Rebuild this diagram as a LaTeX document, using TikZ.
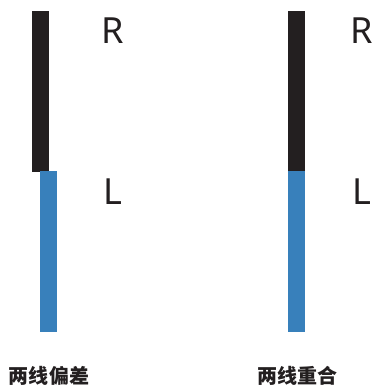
\documentclass[tikz,border=0pt]{standalone}
\usepackage{fontspec}
\setmainfont{Noto Sans}
\newfontfamily\cjk{Noto Sans CJK SC}
\definecolor{barblack}{HTML}{231F20}
\definecolor{barblue}{HTML}{3880BB}
\begin{document}
\begin{tikzpicture}[x=1pt,y=-1pt,
  letter/.style={font=\fontsize{36}{36}\selectfont,text=barblack,inner sep=0pt,anchor=base},
  caption/.style={font=\cjk\bfseries\fontsize{20}{20}\selectfont,text=barblack,inner sep=0pt}]
\useasboundingbox (0,0) rectangle (374,387);
% left pair
\fill[barblack] (32,11) rectangle (49,172);
\fill[barblue] (40,171) rectangle (57,332);
% right pair
\fill[barblack] (288,11) rectangle (305,172);
\fill[barblue] (288,171) rectangle (305,332);
\node[letter] (r1) at (113,43.5) {R};
\node[letter] (l1) at (113,204.5) {L};
\node[letter] (r2) at (362,43.5) {R};
\node[letter] (l2) at (362,204.5) {L};
\node[caption] (c1) at (49,376) {两线偏差};
\node[caption] (c2) at (297,376) {两线重合};
\end{tikzpicture}
\end{document}
